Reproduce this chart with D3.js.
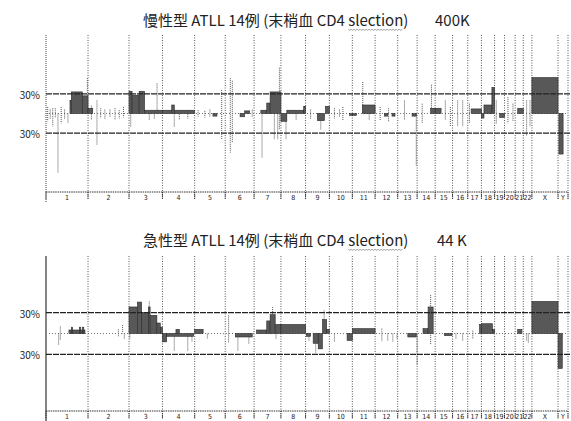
<!DOCTYPE html>
<html>
<head>
<meta charset="utf-8">
<script src="https://cdn.jsdelivr.net/npm/d3@7"></script>
<style>
  body { margin: 0; background: #fff; }
  svg { display: block; }
</style>
</head>
<body>
<div id="chart"></div>
<script>
// Chromosomes (lengths in Mb)
const chromNames = ["1","2","3","4","5","6","7","8","9","10","11","12","13","14","15","16","17","18","19","20","21","22","X","Y"];
const chromLengths = [249,243,198,191,181,171,159,146,141,136,135,134,115,107,103,90,81,78,59,63,48,51,155,59];

const yTickLabels = ["30%", "30%"];
const yTickValues = [30, -30];

// Segments: [chrom, startMb, endMb, percent]
const chronicSegments = [
  ["1",142,150,20],["1",150,215,33],["1",215,249,27],["2",0,28,8],
  ["3",0,18,34],["3",18,60,28],["3",60,92,34],["3",92,198,5],
  ["4",0,55,5],["4",55,70,13],["4",70,191,5],
  ["5",108,132,-4],
  ["6",88,115,-5],["6",115,145,4],
  ["7",40,75,5],["7",75,95,16],["7",95,159,33],
  ["8",0,35,-12],["8",35,135,5],["8",135,146,11],
  ["9",70,112,-11],["9",118,141,11],
  ["10",120,136,-3],
  ["11",0,25,-3],["11",60,135,13],
  ["12",55,75,-4],["12",100,118,-4],
  ["13",85,110,-4],
  ["14",80,107,8],["15",0,35,8],
  ["17",20,81,7],["18",0,15,-7],["18",15,62,13],["18",62,78,40],
  ["19",30,59,-6],
  ["21",15,48,8],
  ["X",0,155,55],
  ["Y",5,30,-62]
];

// Single-probe spikes: [chrom, posMb, low%, high%]
const chronicSpikes = [
  ["1",10,-12,10],["1",25,-8,6],["1",40,-20,8],["1",55,-6,8],["1",71,-90,0],["1",90,-15,10],["1",110,-8,6],["1",130,-15,0],["1",245,0,54],
  ["2",20,-10,12],["2",53,-48,20],["2",75,-6,8],["2",100,-8,6],["2",130,-6,6],["2",160,-10,8],["2",185,-8,5],["2",210,-6,10],
  ["3",10,-20,0],["3",120,-10,0],["3",150,-8,0],["3",166,0,46],
  ["4",70,-20,0],["4",100,-10,5],["4",150,-8,5],
  ["5",20,-5,5],["5",60,-6,4],["5",90,-6,6],["5",160,-40,36],
  ["6",30,-60,54],["6",42,-45,50],["6",160,-6,6],
  ["7",47,-68,0],["7",120,-40,0],["7",140,-40,0],["7",150,-25,70],
  ["8",30,-40,0],["8",90,-10,0],
  ["9",30,-8,6],["9",90,-25,0],
  ["10",30,-8,8],["10",60,-6,6],["10",80,-10,10],
  ["11",62,0,48],["11",100,-10,0],
  ["12",30,-10,10],["12",80,-12,8],
  ["13",40,-10,20],["13",110,-80,0],
  ["14",30,-15,15],["14",85,0,44],
  ["15",60,-10,20],["15",90,-20,10],
  ["16",30,-20,20],["16",60,-20,20],
  ["17",10,-15,15],
  ["19",10,-15,20],
  ["20",20,-15,25],["20",50,-12,15],
  ["22",20,-35,20],["22",40,-20,20]
];

const acuteSegments = [
  ["1",136,231,5],["1",150,158,9],["1",198,206,9],["1",216,224,9],
  ["3",0,50,38],["3",50,75,45],["3",75,115,30],["3",115,125,38],["3",125,165,26],["3",165,185,15],["3",185,198,9],
  ["4",0,25,-12],["4",25,185,-4],["4",80,100,6],
  ["5",0,50,6],
  ["6",60,160,-5],
  ["7",15,75,5],["7",75,95,18],["7",95,125,27],["7",125,159,13],
  ["8",0,146,13],
  ["9",5,30,-4],["9",45,75,-14],["9",75,100,-22],["9",100,125,20],["9",125,141,6],
  ["10",105,136,-10],
  ["11",0,135,7],
  ["13",60,110,-5],
  ["14",35,65,7],["14",65,95,38],
  ["15",55,100,-3],
  ["17",70,81,13],["18",0,65,14],["18",65,78,6],
  ["21",15,40,6],
  ["X",0,155,46],
  ["Y",0,25,-50]
];

const acuteSpikes = [
  ["1",75,-17,0],["1",85,-10,10],
  ["2",180,-4,6],["2",205,0,12],["2",215,-8,0],
  ["3",5,-8,0],["3",120,0,46],
  ["4",70,-25,0],["4",150,-25,0],["4",175,-12,0],
  ["5",75,-7,0],
  ["6",20,-13,26],["6",75,-25,0],["6",140,-15,0],
  ["7",110,0,38],["7",130,-8,0],
  ["9",20,-10,0],["9",60,-28,0],["9",110,0,33],
  ["10",30,-12,0],
  ["12",40,-11,7],["12",75,-10,0],["12",105,-12,0],["12",130,-8,0],
  ["13",115,-45,0],
  ["14",80,-16,55],
  ["16",20,-8,0],["16",60,-10,0],
  ["17",30,-8,4],
  ["22",20,-10,0],["22",30,-14,0]
];

// Layout
const W = 571, H = 421;
const plotLeft = 46, plotRight = 568;

const chromStart = {};
let acc = 0;
chromNames.forEach((c, i) => { chromStart[c] = acc; acc += chromLengths[i]; });
const genomeLength = acc;
const boundaries = chromNames.map(c => chromStart[c]).concat([genomeLength]);

const x = d3.scaleLinear().domain([0, genomeLength]).range([plotLeft, plotRight]);
const gx = (c, mb) => x(chromStart[c] + mb);

const svg = d3.select("#chart").append("svg")
  .attr("width", W).attr("height", H)
  .style("font-family", "'Noto Sans CJK JP', 'Noto Sans', sans-serif");

const panels = [
  { title: "慢性型 ATLL 14例 (末梢血 CD4 ", tag: "400K", titleY: 26, tagX: 435,
    top: 35, bottom: 192, yMax: 120, labelY: 200, segs: chronicSegments, spikes: chronicSpikes, leftSolid: false },
  { title: "急性型 ATLL 14例 (末梢血 CD4 ", tag: "44 K", titleY: 246, tagX: 437,
    top: 256, bottom: 411, yMax: 111, labelY: 419, segs: acuteSegments, spikes: acuteSpikes, leftSolid: true }
];

panels.forEach(p => {
  const g = svg.append("g");
  const y = d3.scaleLinear().domain([-p.yMax, p.yMax]).range([p.bottom, p.top]);

  // Title
  const t = g.append("text")
    .attr("x", 143).attr("y", p.titleY)
    .attr("font-size", 15).attr("fill", "#222");
  const t1 = t.append("tspan").text(p.title);
  const t2 = t.append("tspan").text("slection");
  t.append("tspan").text(")");
  g.append("text")
    .attr("x", p.tagX).attr("y", p.titleY)
    .attr("font-size", 15).attr("fill", "#222")
    .text(p.tag);

  // wavy spell-check underline under "slection"
  const ux0 = 143 + t1.node().getComputedTextLength();
  const ux1 = ux0 + t2.node().getComputedTextLength();
  const wave = d3.range(ux0, ux1 + 0.1, 1.5).map((v, i) => [v, p.titleY + 3 + (i % 2) * 1.5]);
  g.append("path")
    .attr("d", d3.line()(wave))
    .attr("fill", "none").attr("stroke", "#888").attr("stroke-width", 0.8);

  // Chromosome boundary lines
  g.append("g").selectAll("line")
    .data(boundaries.slice(1))
    .join("line")
    .attr("x1", d => x(d)).attr("x2", d => x(d))
    .attr("y1", p.top).attr("y2", p.bottom + 8)
    .attr("stroke", "#555").attr("stroke-width", 1)
    .attr("stroke-dasharray", "1,1.5");

  // Left axis
  g.append("line")
    .attr("x1", plotLeft).attr("x2", plotLeft)
    .attr("y1", p.top).attr("y2", p.bottom + 10)
    .attr("stroke", p.leftSolid ? "#333" : "#444")
    .attr("stroke-width", p.leftSolid ? 1.2 : 1)
    .attr("stroke-dasharray", p.leftSolid ? null : "1,1");

  // Centre line
  g.append("line")
    .attr("x1", plotLeft).attr("x2", plotRight)
    .attr("y1", y(0)).attr("y2", y(0))
    .attr("stroke", "#777").attr("stroke-dasharray", "1,2");

  // Spikes
  g.append("g").selectAll("line")
    .data(p.spikes)
    .join("line")
    .attr("x1", d => gx(d[0], d[1])).attr("x2", d => gx(d[0], d[1]))
    .attr("y1", d => y(d[3])).attr("y2", d => y(d[2]))
    .attr("stroke", "#555").attr("stroke-width", 1)
    .attr("stroke-dasharray", "1,1");

  // Segments
  g.append("g").selectAll("rect")
    .data(p.segs)
    .join("rect")
    .attr("x", d => gx(d[0], d[1]))
    .attr("width", d => Math.max(1, gx(d[0], d[2]) - gx(d[0], d[1])))
    .attr("y", d => y(Math.max(0, d[3])))
    .attr("height", d => Math.max(1.5, Math.abs(y(d[3]) - y(0))))
    .attr("fill", "#585858").attr("stroke", "#2a2a2a").attr("stroke-width", 0.6);

  // 30% lines and labels
  g.append("g").selectAll("line")
    .data(yTickValues)
    .join("line")
    .attr("x1", plotLeft).attr("x2", W)
    .attr("y1", d => y(d)).attr("y2", d => y(d))
    .attr("stroke", "#222").attr("stroke-width", 1.3)
    .attr("stroke-dasharray", "6,1");
  g.append("g").selectAll("text")
    .data(yTickValues)
    .join("text")
    .attr("x", 40).attr("y", d => y(d) + 5)
    .attr("text-anchor", "end")
    .attr("font-size", 10).attr("fill", "#222")
    .text((d, i) => yTickLabels[i]);

  // Bottom axis with chromosome labels
  g.append("line")
    .attr("x1", plotLeft).attr("x2", plotRight)
    .attr("y1", p.bottom).attr("y2", p.bottom)
    .attr("stroke", "#333").attr("stroke-dasharray", "1.5,0.8");
  g.append("g").selectAll("line")
    .data(boundaries)
    .join("line")
    .attr("x1", d => x(d)).attr("x2", d => x(d))
    .attr("y1", p.bottom).attr("y2", p.bottom + 8)
    .attr("stroke", "#333").attr("stroke-dasharray", "1,1");
  g.append("g").selectAll("text")
    .data(chromNames)
    .join("text")
    .attr("x", (c, i) => gx(c, chromLengths[i] / 2))
    .attr("y", p.labelY)
    .attr("text-anchor", "middle")
    .attr("font-family", "'DejaVu Sans Condensed', sans-serif")
    .attr("font-size", 7).attr("fill", "#222")
    .text(c => c);
});
</script>
</body>
</html>
